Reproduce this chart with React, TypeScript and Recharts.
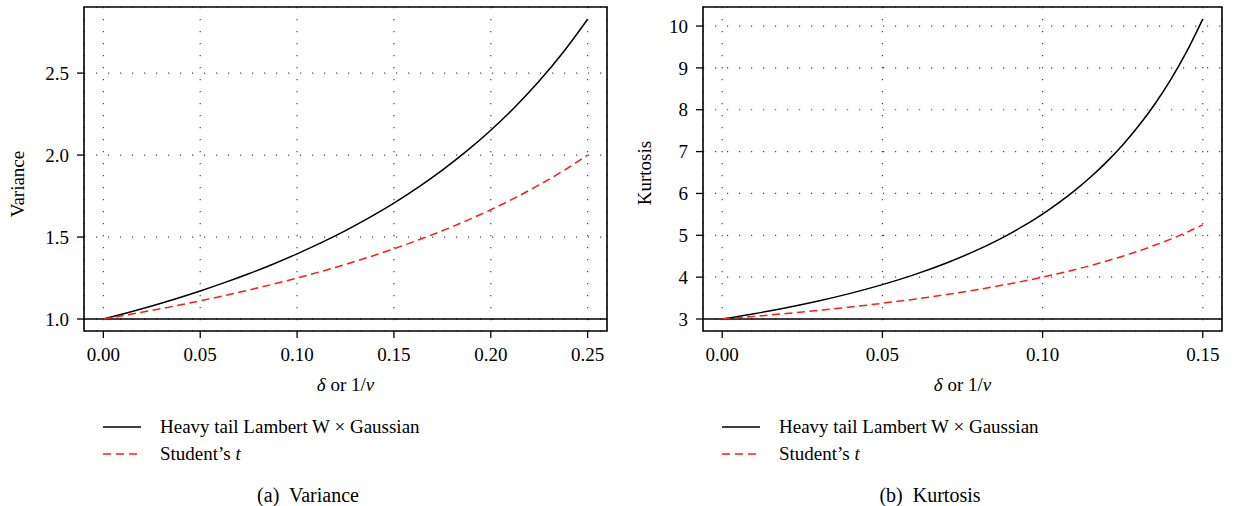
import React from 'react';
import { LineChart, Line, XAxis, YAxis, CartesianGrid, ReferenceLine, ReferenceArea } from 'recharts';

// (a) variance vs delta (or 1/nu)
const varDelta = [0, 0.0125, 0.025, 0.0375, 0.05, 0.0625, 0.075, 0.0875, 0.1, 0.1125, 0.125, 0.1375, 0.15, 0.1625, 0.175, 0.1875, 0.2, 0.2125, 0.225, 0.2375, 0.25];
const varLambertW = [1, 1.0387, 1.08, 1.1241, 1.1712, 1.2218, 1.276, 1.3345, 1.3975, 1.4657, 1.5396, 1.62, 1.7075, 1.8032, 1.9082, 2.0239, 2.1517, 2.2935, 2.4517, 2.6288, 2.8284];
const varStudentT = [1, 1.0256, 1.0526, 1.0811, 1.1111, 1.1429, 1.1765, 1.2121, 1.25, 1.2903, 1.3333, 1.3793, 1.4286, 1.4815, 1.5385, 1.6, 1.6667, 1.7391, 1.8182, 1.9048, 2.0];

// (b) kurtosis vs delta (or 1/nu)
const kurtDelta = [0, 0.01, 0.02, 0.03, 0.04, 0.05, 0.06, 0.07, 0.08, 0.09, 0.1, 0.105, 0.11, 0.115, 0.12, 0.125, 0.13, 0.135, 0.14, 0.145, 0.15];
const kurtLambertW = [3, 3.1269, 3.2695, 3.43, 3.6122, 3.8206, 4.0601, 4.338, 4.6632, 5.0479, 5.5082, 5.7734, 6.0665, 6.3916, 6.7539, 7.1595, 7.6157, 8.132, 8.7194, 9.3923, 10.1687];
const kurtStudentT = [3, 3.0625, 3.1304, 3.2045, 3.2857, 3.375, 3.4737, 3.5833, 3.7059, 3.8438, 4, 4.0862, 4.1786, 4.2778, 4.3846, 4.5, 4.625, 4.7609, 4.9091, 5.0714, 5.25];

const varXTicks = [0, 0.05, 0.1, 0.15, 0.2, 0.25];
const varYTicks = [1.0, 1.5, 2.0, 2.5];
const kurtXTicks = [0, 0.05, 0.1, 0.15];
const kurtYTicks = [3, 4, 5, 6, 7, 8, 9, 10];

const FONT = '"Liberation Serif", "DejaVu Serif", serif';
const RED = '#ff1a1a';

const varRows = varDelta.map((d, i) => ({ d, lw: varLambertW[i], st: varStudentT[i] }));
const kurtRows = kurtDelta.map((d, i) => ({ d, lw: kurtLambertW[i], st: kurtStudentT[i] }));

interface PanelProps {
  left: number;
  width: number;
  marginLeft: number;
  marginRight: number;
  rows: { d: number; lw: number; st: number }[];
  xDomain: [number, number];
  yDomain: [number, number];
  xTicks: number[];
  yTicks: number[];
  yFmt: (v: number) => string;
  base: number;
  yLabel: string;
  yLabelX: number;
  yLabelY: number;
  caption: string;
  captionX: number;
}

const tickStyle = { fill: '#000', fontSize: 19, fontFamily: FONT };

const Panel: React.FC<PanelProps> = (p) => {
  const plotLeft = p.marginLeft + 60;
  const plotRight = p.width - p.marginRight;
  const centerX = (plotLeft + plotRight) / 2;
  return (
    <div style={{ position: 'absolute', left: p.left, top: 0, width: p.width, height: 506, fontFamily: FONT, color: '#000' }}>
      <LineChart width={p.width} height={380} data={p.rows} margin={{ top: 7, right: p.marginRight, left: p.marginLeft, bottom: 19 }}>
        <CartesianGrid stroke="#444" strokeWidth={1.2} strokeDasharray="1.2 10.8" />
        <XAxis
          dataKey="d"
          type="number"
          domain={p.xDomain}
          allowDataOverflow
          ticks={p.xTicks}
          tickFormatter={(v: number) => v.toFixed(2)}
          axisLine={false}
          tickLine={{ stroke: '#000', strokeWidth: 1.3 }}
          tickSize={7}
          tickMargin={10}
          tick={tickStyle}
          height={30}
        />
        <YAxis
          type="number"
          domain={p.yDomain}
          allowDataOverflow
          ticks={p.yTicks}
          tickFormatter={p.yFmt}
          axisLine={false}
          tickLine={{ stroke: '#000', strokeWidth: 1.3 }}
          tickSize={7}
          tickMargin={8}
          tick={tickStyle}
          width={60}
        />
        <ReferenceLine y={p.base} stroke="#000" strokeWidth={1.5} />
        <ReferenceArea x1={p.xDomain[0]} x2={p.xDomain[1]} y1={p.yDomain[0]} y2={p.yDomain[1]} fill="none" stroke="#000" strokeWidth={1.6} />
        <Line dataKey="lw" type="monotone" stroke="#000" strokeWidth={1.5} dot={false} isAnimationActive={false} />
        <Line dataKey="st" type="monotone" stroke={RED} strokeWidth={1.5} strokeDasharray="8 4.5" dot={false} isAnimationActive={false} />
      </LineChart>
      <div style={{ position: 'absolute', left: p.yLabelX, top: p.yLabelY, transform: 'translate(-50%, -50%) rotate(-90deg)', fontSize: 19, whiteSpace: 'nowrap' }}>
        {p.yLabel}
      </div>
      <div style={{ position: 'absolute', left: centerX, top: 385, transform: 'translate(-50%, -50%)', fontSize: 19, whiteSpace: 'nowrap' }}>
        <i>δ</i> or 1/<i>ν</i>
      </div>
      <div style={{ position: 'absolute', left: plotLeft + 19, top: 413, fontSize: 19, lineHeight: '27px' }}>
        <div style={{ display: 'flex', alignItems: 'center' }}>
          <svg width={38} height={4} style={{ marginRight: 19 }}>
            <line x1={0} y1={2} x2={38} y2={2} stroke="#000" strokeWidth={1.5} />
          </svg>
          <span>Heavy tail Lambert W × Gaussian</span>
        </div>
        <div style={{ display: 'flex', alignItems: 'center' }}>
          <svg width={38} height={4} style={{ marginRight: 19 }}>
            <line x1={0} y1={2} x2={38} y2={2} stroke={RED} strokeWidth={1.5} strokeDasharray="8 5" />
          </svg>
          <span>Student’s <i>t</i></span>
        </div>
      </div>
      <div style={{ position: 'absolute', left: p.captionX, top: 495, transform: 'translate(-50%, -50%)', fontSize: 20, whiteSpace: 'pre' }}>
        {p.caption}
      </div>
    </div>
  );
};

const App: React.FC = () => {
  return (
    <div style={{ position: 'absolute', left: 0, top: 0, width: 1233, height: 506, background: '#fff' }}>
      <Panel
        left={0}
        width={620}
        marginLeft={24}
        marginRight={13}
        rows={varRows}
        xDomain={[-0.01, 0.26]}
        yDomain={[0.927, 2.903]}
        xTicks={varXTicks}
        yTicks={varYTicks}
        yFmt={(v) => v.toFixed(1)}
        base={1}
        yLabel="Variance"
        yLabelX={18}
        yLabelY={184}
        caption="(a)  Variance"
        captionX={308}
      />
      <Panel
        left={620}
        width={613}
        marginLeft={23}
        marginRight={11}
        rows={kurtRows}
        xDomain={[-0.006, 0.156]}
        yDomain={[2.713, 10.455]}
        xTicks={kurtXTicks}
        yTicks={kurtYTicks}
        yFmt={(v) => String(v)}
        base={3}
        yLabel="Kurtosis"
        yLabelX={25}
        yLabelY={173}
        caption="(b)  Kurtosis"
        captionX={310}
      />
    </div>
  );
};

export default App;
